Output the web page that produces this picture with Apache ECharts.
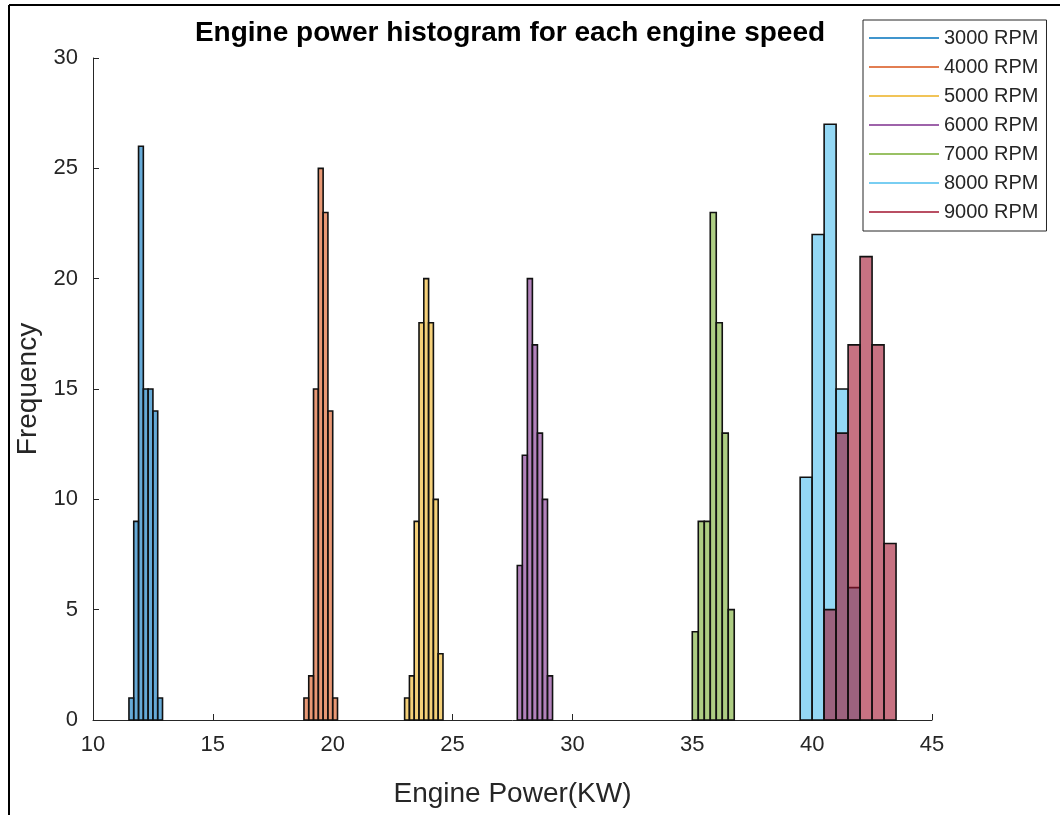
<!DOCTYPE html>
<html>
<head>
<meta charset="utf-8">
<script src="https://cdn.jsdelivr.net/npm/echarts@6/dist/echarts.min.js"></script>
<style>
html,body{margin:0;padding:0;background:#fff;}
#chart{width:1060px;height:815px;}
</style>
</head>
<body>
<div id="chart"></div>
<script>
// ---- data ----
const seriesNames = ['3000 RPM', '4000 RPM', '5000 RPM', '6000 RPM', '7000 RPM', '8000 RPM', '9000 RPM'];

const edges3000 = [11.5, 11.7, 11.9, 12.1, 12.3, 12.5, 12.7, 12.9];
const counts3000 = [1, 9, 26, 15, 15, 14, 1];

const edges4000 = [18.8, 19.0, 19.2, 19.4, 19.6, 19.8, 20.0, 20.2];
const counts4000 = [1, 2, 15, 25, 23, 14, 1];

const edges5000 = [23.0, 23.2, 23.4, 23.6, 23.8, 24.0, 24.2, 24.4, 24.6];
const counts5000 = [1, 2, 9, 18, 20, 18, 10, 3];

const edges6000 = [27.7, 27.91, 28.12, 28.33, 28.54, 28.75, 28.96, 29.17];
const counts6000 = [7, 12, 20, 17, 13, 10, 2];

const edges7000 = [35.0, 35.25, 35.5, 35.75, 36.0, 36.25, 36.5, 36.75];
const counts7000 = [4, 9, 9, 23, 18, 13, 5];

const edges8000 = [39.5, 40.0, 40.5, 41.0, 41.5, 42.0];
const counts8000 = [11, 22, 27, 15, 6];

const edges9000 = [40.5, 41.0, 41.5, 42.0, 42.5, 43.0, 43.5];
const counts9000 = [5, 13, 17, 21, 17, 8];

const xTicks = [10, 15, 20, 25, 30, 35, 40, 45];
const yTicks = [0, 5, 10, 15, 20, 25, 30];

// ---- styling ----
const baseColors = [
  [0, 114, 189], [217, 83, 25], [237, 177, 32], [126, 47, 142],
  [119, 172, 48], [77, 190, 238], [162, 20, 47]
];
const allEdges = [edges3000, edges4000, edges5000, edges6000, edges7000, edges8000, edges9000];
const allCounts = [counts3000, counts4000, counts5000, counts6000, counts7000, counts8000, counts9000];

function toBins(edges, counts) {
  return counts.map((c, i) => [edges[i], edges[i + 1], c]);
}

function renderBar(params, api) {
  const p0 = api.coord([api.value(0), api.value(2)]);
  const p1 = api.coord([api.value(1), 0]);
  return {
    type: 'rect',
    shape: { x: p0[0], y: p0[1], width: p1[0] - p0[0], height: p1[1] - p0[1] },
    style: api.style()
  };
}

const series = seriesNames.map((name, k) => {
  const c = baseColors[k];
  return {
    name: name,
    type: 'custom',
    renderItem: renderBar,
    encode: { x: [0, 1], y: 2 },
    data: toBins(allEdges[k], allCounts[k]),
    itemStyle: {
      color: 'rgba(' + c.join(',') + ',0.6)',
      borderColor: '#111111',
      borderWidth: 1.6
    },
    emphasis: { disabled: true },
    animation: false
  };
});

const FONT = '"Liberation Sans", Arial, Helvetica, sans-serif';
const AX = '#262626';

const chart = echarts.init(document.getElementById('chart'), null, { renderer: 'canvas' });
chart.setOption({
  backgroundColor: '#ffffff',
  animation: false,
  title: {
    text: 'Engine power histogram for each engine speed',
    left: 510,
    top: 19,
    textAlign: 'center',
    padding: 0,
    textStyle: { fontFamily: FONT, fontSize: 28, fontWeight: 'bold', color: '#000' }
  },
  legend: {
    orient: 'vertical',
    left: 863,
    top: 20,
    padding: [8, 8, 9, 6],
    itemGap: 9,
    itemWidth: 70,
    itemHeight: 1.5,
    icon: 'rect',
    backgroundColor: '#fff',
    borderColor: AX,
    borderWidth: 1,
    borderRadius: 0,
    selectedMode: false,
    textStyle: { fontFamily: FONT, fontSize: 20, color: AX },
    data: seriesNames.map((n, k) => ({
      name: n,
      itemStyle: { color: 'rgb(' + baseColors[k].join(',') + ')', borderWidth: 0 }
    }))
  },
  grid: { left: 93, right: 128, top: 58, bottom: 95, containLabel: false },
  xAxis: {
    type: 'value',
    min: xTicks[0],
    max: xTicks[xTicks.length - 1],
    interval: 5,
    name: 'Engine Power(KW)',
    nameLocation: 'middle',
    nameGap: 60,
    nameTextStyle: { fontFamily: FONT, fontSize: 28, color: AX },
    axisLine: { show: true, onZero: false, lineStyle: { color: AX, width: 1 } },
    axisTick: { show: true, inside: true, length: 6, lineStyle: { color: AX } },
    axisLabel: { fontFamily: FONT, fontSize: 22, color: AX, margin: 14 },
    splitLine: { show: false }
  },
  yAxis: {
    type: 'value',
    min: yTicks[0],
    max: yTicks[yTicks.length - 1],
    interval: 5,
    name: 'Frequency',
    nameLocation: 'middle',
    nameGap: 50,
    nameTextStyle: { fontFamily: FONT, fontSize: 28, color: AX },
    axisLine: { show: true, onZero: false, lineStyle: { color: AX, width: 1 } },
    axisTick: { show: true, inside: true, length: 6, lineStyle: { color: AX } },
    axisLabel: { fontFamily: FONT, fontSize: 22, color: AX, margin: 15 },
    splitLine: { show: false }
  },
  graphic: [
    { type: 'line', shape: { x1: 9, y1: 5, x2: 1060, y2: 5 }, style: { stroke: '#000', lineWidth: 2 }, silent: true },
    { type: 'line', shape: { x1: 9, y1: 5, x2: 9, y2: 815 }, style: { stroke: '#000', lineWidth: 2 }, silent: true }
  ],
  series: series
});
</script>
</body>
</html>
